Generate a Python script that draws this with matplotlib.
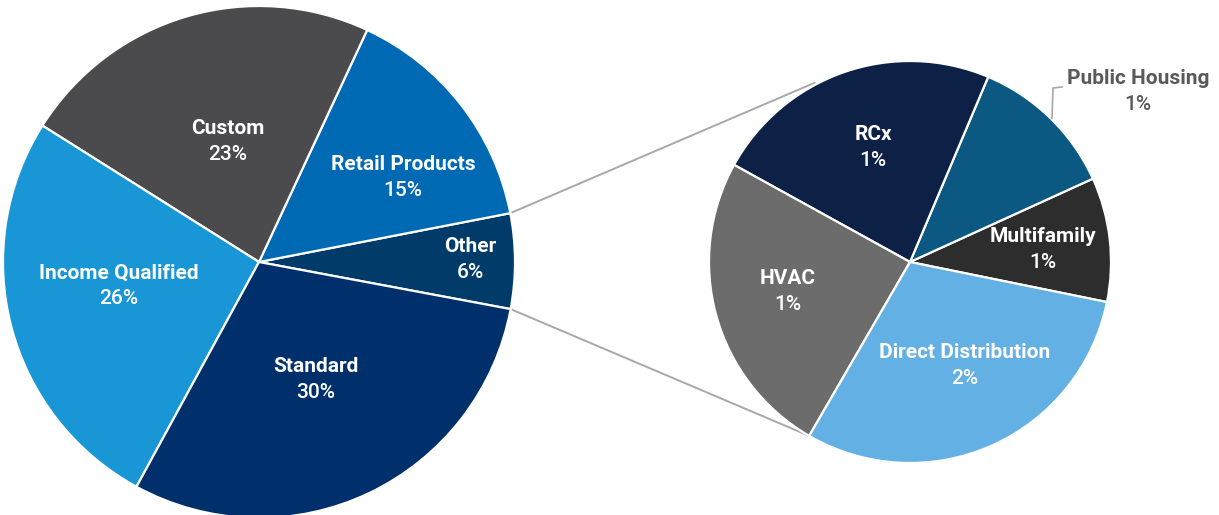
import numpy as np
import matplotlib
matplotlib.use('Agg')
from matplotlib import pyplot as plt

# data
main_labels = ['Other', 'Retail Products', 'Custom', 'Income Qualified', 'Standard']
main_values = [6, 15, 23, 26, 30]
main_colors = ['#003b6a', '#0069b4', '#4b4b4d', '#1996d6', '#00306b']

other_labels = ['Multifamily', 'Public Housing', 'RCx', 'HVAC', 'Direct Distribution']
other_values = [0.60, 0.71, 1.40, 1.48, 1.81]
other_colors = ['#2d2d2d', '#0b5982', '#0c2145', '#6c6c6c', '#63b0e4']

# layout (pixel coords, y up)
W, H = 1219, 515
left_c, left_r = (259, 253), 256
right_c, right_r = (910, 253), 201
main_label_pos = [(470, 255), (403, 338), (228, 373), (119, 229), (316, 135)]
other_label_pos = [(1043, 266), (1138, 423), (873, 367), (788, 224), (965, 150)]

plt.rcParams['font.family'] = ['Roboto', 'DejaVu Sans']

fig = plt.figure(figsize=(W / 100, H / 100), dpi=100)
ax = fig.add_axes([0, 0, 1, 1])

wl, _ = ax.pie(main_values, colors=main_colors, startangle=-10.6, counterclock=True,
               center=left_c, radius=left_r,
               wedgeprops=dict(edgecolor='white', linewidth=1.6))
wr, _ = ax.pie(other_values, colors=other_colors, startangle=-11.5, counterclock=True,
               center=right_c, radius=right_r,
               wedgeprops=dict(edgecolor='white', linewidth=1.6))

# connector lines from "Other" slice to the breakdown pie
w_other = wl[0]
def on_circle(c, r, ang):
    a = np.radians(ang)
    return c[0] + r * np.cos(a), c[1] + r * np.sin(a)

p1 = on_circle(left_c, left_r, w_other.theta2)
p2 = on_circle(left_c, left_r, w_other.theta1)
q1 = on_circle(right_c, right_r + 2, 118)
q2 = on_circle(right_c, right_r, wr[3].theta2)
ax.plot([p1[0], q1[0]], [p1[1], q1[1]], color='#a8a8a8', lw=1.4, zorder=0)
ax.plot([p2[0], q2[0]], [p2[1], q2[1]], color='#a8a8a8', lw=1.4, zorder=0)

def put_label(x, y, name, pct, col):
    ax.text(x, y + 13, name, ha='center', va='center', color=col,
            fontsize=15, fontweight='bold')
    ax.text(x, y - 13, pct, ha='center', va='center', color=col,
            fontsize=15, fontweight='medium')

for lab, v, (x, y) in zip(main_labels, main_values, main_label_pos):
    put_label(x, y, lab, f'{v}%', 'white')

for lab, v, (x, y) in zip(other_labels, other_values, other_label_pos):
    col = '#595959' if lab == 'Public Housing' else 'white'
    put_label(x, y, lab, f'{v:.0f}%', col)

# leader line for Public Housing
ax.plot([1052, 1053, 1062], [397, 427, 428], color='#a8a8a8', lw=1.2)

ax.set_xlim(0, W)
ax.set_ylim(0, H)
ax.set_aspect('equal')
ax.axis('off')

fig.savefig('out.png', dpi=100)
